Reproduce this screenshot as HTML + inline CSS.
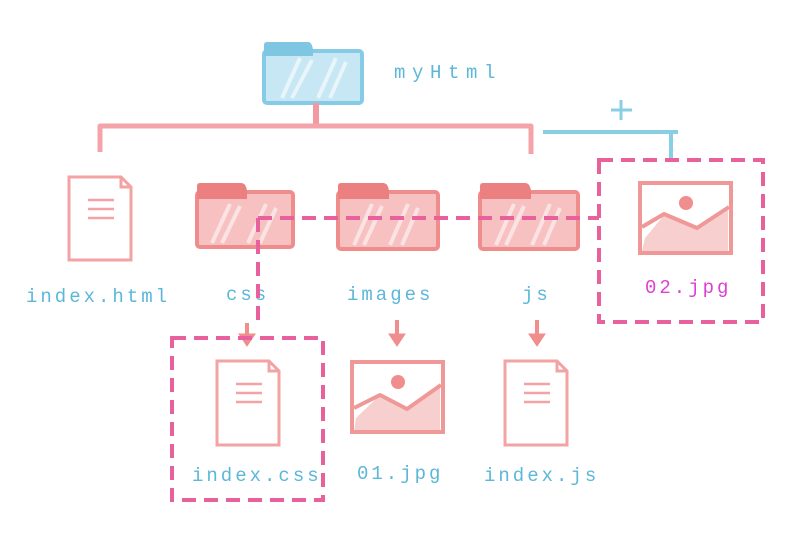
<!DOCTYPE html>
<html>
<head>
<meta charset="utf-8">
<style>
html,body{margin:0;padding:0;background:#fff;}
svg{display:block;}
.lbl{font-family:"Liberation Mono",monospace;font-size:19px;fill:#5cb7d9;letter-spacing:3.0px;}
</style>
</head>
<body>
<svg width="800" height="547" viewBox="0 0 800 547" xmlns="http://www.w3.org/2000/svg">
<rect width="800" height="547" fill="#fff"/>

<!-- top blue folder -->
<g>
  <rect x="264" y="51" width="98" height="52" rx="3" fill="#c6e7f3" stroke="#86cbe5" stroke-width="4"/>
  <path d="M264,54 L264,45 Q264,42 267,42 L308,42 Q312,42 313,50 L313,56 L264,56 Z" fill="#7ec6e1"/>
  <path d="M282,98 L300,58 M292,98 L312,60 M318,98 L336,58 M330,98 L346,62" stroke="#ffffff" stroke-width="4" opacity="0.6"/>
</g>
<text class="lbl" x="394" y="78" style="font-size:19px;letter-spacing:6.6px">myHtml</text>

<!-- red tree connector -->
<path d="M316,103 L316,126" stroke="#f29a9f" stroke-width="6" fill="none"/>
<path d="M100,152 L100,126 L531,126 L531,154" stroke="#f4a3a8" stroke-width="5" fill="none" stroke-linejoin="round"/>

<!-- blue connector + plus -->
<path d="M543,132 L678,132 M671,132 L671,158" stroke="#88cfe4" stroke-width="4" fill="none"/>
<path d="M621,100 L621,120 M611,110 L632,110" stroke="#88cfe4" stroke-width="3" fill="none"/>

<!-- index.html file -->
<g fill="none" stroke="#f3a3a3" stroke-width="3">
  <path d="M69,177 L121,177 L131,187 L131,260 L69,260 Z" fill="#fff"/>
  <path d="M121,177 L121,187 L131,187"/>
  <path d="M88,200 L114,200 M88,209 L114,209 M88,218 L114,218" stroke-width="2.5"/>
</g>
<text class="lbl" x="26" y="302">index.html</text>

<!-- folders -->
<g>
  <rect x="197" y="192" width="96" height="55" rx="3" fill="#f7c1c1" stroke="#ef8c8c" stroke-width="4"/>
  <path d="M197,196 L197,186 Q197,183 200,183 L241,183 Q246,183 247,191 L247,199 L197,199 Z" fill="#ec8080"/>
  <path d="M212,243 L230,204 M222,243 L240,206 M248,243 L266,204 M260,243 L276,208" stroke="#fff" stroke-width="4" opacity="0.55"/>
</g>
<text class="lbl" x="226" y="300">css</text>

<g>
  <rect x="338" y="192" width="100" height="57" rx="3" fill="#f7c1c1" stroke="#ef8c8c" stroke-width="4"/>
  <path d="M338,196 L338,186 Q338,183 341,183 L383,183 Q388,183 389,191 L389,199 L338,199 Z" fill="#ec8080"/>
  <path d="M354,245 L372,204 M364,245 L382,206 M390,245 L408,204 M402,245 L418,208" stroke="#fff" stroke-width="4" opacity="0.55"/>
</g>
<text class="lbl" x="347" y="300">images</text>

<g>
  <rect x="480" y="192" width="98" height="57" rx="3" fill="#f7c1c1" stroke="#ef8c8c" stroke-width="4"/>
  <path d="M480,196 L480,186 Q480,183 483,183 L525,183 Q530,183 531,191 L531,199 L480,199 Z" fill="#ec8080"/>
  <path d="M496,245 L514,204 M506,245 L524,206 M532,245 L550,204 M544,245 L560,208" stroke="#fff" stroke-width="4" opacity="0.55"/>
</g>
<text class="lbl" x="522" y="300">js</text>

<!-- 02.jpg image -->
<g>
  <path d="M645,238 L665,214 L697,228 L728,208 L728,251 L642,251 Z" fill="#f8cfcf"/>
  <rect x="640" y="183" width="91" height="70" fill="none" stroke="#f09797" stroke-width="4"/>
  <circle cx="686" cy="203" r="7" fill="#f08e8e"/>
  <path d="M642,227 L664,214 L697,228 L729,207" fill="none" stroke="#f09797" stroke-width="4" stroke-linejoin="round"/>
</g>
<text class="lbl" x="645" y="293" style="fill:#df3fd3">02.jpg</text>

<!-- arrows -->
<g fill="#f08d8d" stroke="#f08d8d">
  <path d="M247,323 L247,337" stroke-width="4"/>
  <path d="M239,334 L255,334 L247,346 Z"/>
  <path d="M397,320 L397,337" stroke-width="4"/>
  <path d="M389,334 L405,334 L397,346 Z"/>
  <path d="M537,320 L537,337" stroke-width="4"/>
  <path d="M529,334 L545,334 L537,346 Z"/>
</g>

<!-- index.css file -->
<g fill="none" stroke="#f3a3a3" stroke-width="3">
  <path d="M217,361 L269,361 L279,371 L279,445 L217,445 Z" fill="#fff"/>
  <path d="M269,361 L269,371 L279,371"/>
  <path d="M236,384 L262,384 M236,393 L262,393 M236,402 L262,402" stroke-width="2.5"/>
</g>
<text class="lbl" x="192" y="481">index.css</text>

<!-- 01.jpg image -->
<g>
  <path d="M356,418 L380,395 L407,409 L440,386 L440,431 L354,431 Z" fill="#f8cfcf"/>
  <rect x="352" y="362" width="91" height="70" fill="none" stroke="#f09797" stroke-width="4"/>
  <circle cx="398" cy="382" r="7" fill="#f08e8e"/>
  <path d="M354,408 L380,395 L407,409 L441,385" fill="none" stroke="#f09797" stroke-width="4" stroke-linejoin="round"/>
</g>
<text class="lbl" x="357" y="479">01.jpg</text>

<!-- index.js file -->
<g fill="none" stroke="#f3a3a3" stroke-width="3">
  <path d="M505,361 L557,361 L567,371 L567,445 L505,445 Z" fill="#fff"/>
  <path d="M557,361 L557,371 L567,371"/>
  <path d="M524,384 L550,384 M524,393 L550,393 M524,402 L550,402" stroke-width="2.5"/>
</g>
<text class="lbl" x="484" y="481">index.js</text>

<!-- dashed highlight lines -->
<g fill="none" stroke="#e8609c" stroke-width="4">
  <path d="M258,218 L599,218" stroke-dasharray="14 8"/>
  <path d="M258,218 L258,323" stroke-dasharray="14 8"/>
  <rect x="599" y="160" width="164" height="162" stroke-dasharray="14 8"/>
  <rect x="172" y="338" width="151" height="162" stroke-dasharray="14 8"/>
</g>
</svg>
</body>
</html>
